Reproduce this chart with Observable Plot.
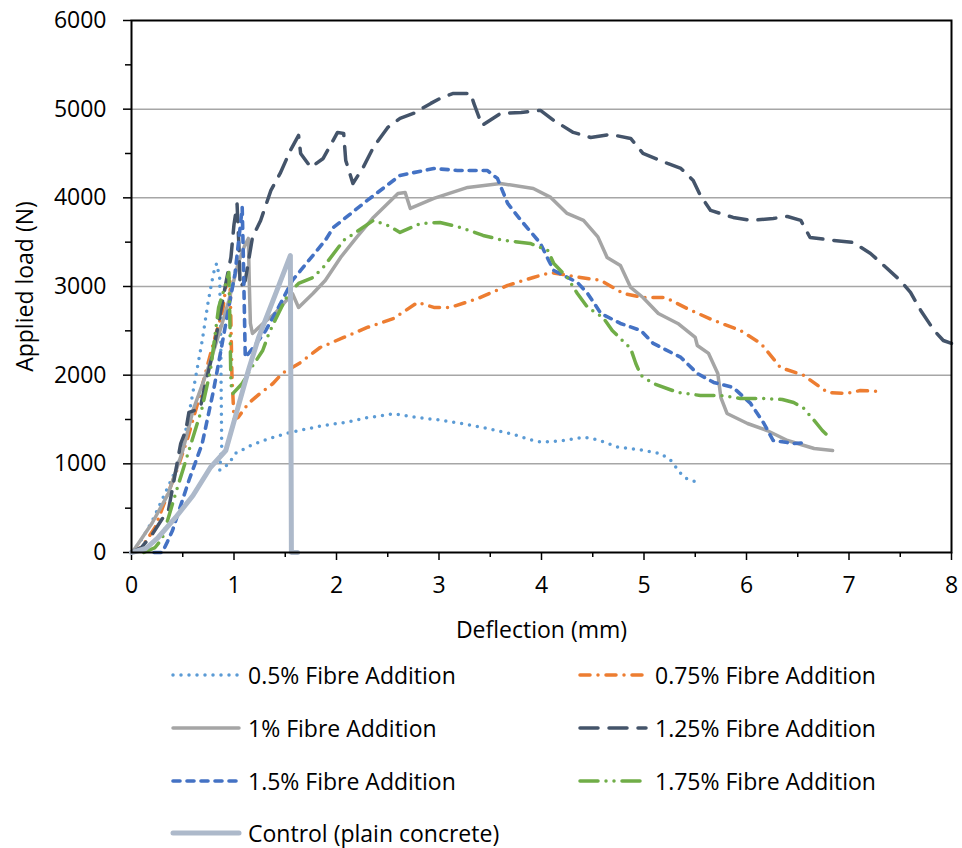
<!DOCTYPE html>
<html>
<head>
<meta charset="utf-8">
<script src="https://cdn.jsdelivr.net/npm/d3@7"></script>
<script src="https://cdn.jsdelivr.net/npm/@observablehq/plot@0.6"></script>
<style>
  html, body { margin: 0; padding: 0; background: white; }
  #wrap { position: relative; width: 962px; height: 848px; font-family: "Open Sans", sans-serif; overflow: hidden; }
  .item { position: absolute; display: flex; align-items: center; height: 26px; line-height: 26px; font-size: 23px; color: #000; white-space: nowrap; }
  .item svg { margin-right: 6px; }
</style>
</head>
<body>
<div id="wrap"></div>
<script>
// ---- data ----
const seriesNames = ["0.5% Fibre Addition", "0.75% Fibre Addition", "1% Fibre Addition", "1.25% Fibre Addition", "1.5% Fibre Addition", "1.75% Fibre Addition", "Control (plain concrete)"];

const fibre05 = [[0,0],[0.1,150],[0.2,350],[0.3,600],[0.4,850],[0.46,1004],[0.55,1489],[0.62,1940],[0.69,2391],[0.75,2843],[0.8,3150],[0.83,3260],[0.86,3100],[0.87,2500],[0.875,1800],[0.88,1200],[0.86,930],[0.95,1000],[1.01,1115],[1.15,1200],[1.34,1285],[1.5,1340],[1.63,1375],[1.86,1430],[2.1,1470],[2.3,1520],[2.56,1565],[2.8,1520],[3.01,1495],[3.25,1450],[3.47,1400],[3.7,1340],[3.9,1270],[4.0,1245],[4.2,1260],[4.41,1300],[4.55,1270],[4.74,1190],[4.95,1160],[5.16,1117],[5.26,1040],[5.36,890],[5.42,830],[5.5,800],[5.56,805]];

const fibre075 = [[0,0],[0.1,60],[0.23,282],[0.35,650],[0.45,950],[0.55,1297],[0.65,1700],[0.75,2150],[0.82,2450],[0.89,2730],[0.92,2990],[0.96,3120],[0.97,2600],[0.98,2000],[1.0,1500],[1.04,1523],[1.14,1681],[1.25,1790],[1.38,1906],[1.47,2019],[1.65,2143],[1.84,2312],[2.07,2425],[2.3,2538],[2.56,2640],[2.79,2820],[2.95,2764],[3.11,2764],[3.38,2865],[3.67,3012],[3.92,3102],[4.09,3158],[4.38,3102],[4.58,3068],[4.8,2921],[4.99,2876],[5.21,2876],[5.42,2752],[5.68,2617],[5.94,2504],[6.14,2358],[6.33,2087],[6.56,1997],[6.79,1805],[6.98,1794],[7.11,1827],[7.31,1816]];

const fibre1 = [[0,0],[0.04,56],[0.2,330],[0.36,665],[0.5,1150],[0.6,1602],[0.74,2053],[0.85,2450],[0.95,2843],[1.04,3260],[1.1,3450],[1.14,3542],[1.15,3000],[1.16,2583],[1.18,2470],[1.28,2580],[1.4,2696],[1.57,2921],[1.63,2764],[1.77,2921],[1.89,3068],[2.04,3328],[2.2,3560],[2.36,3779],[2.6,4050],[2.67,4061],[2.72,3880],[2.95,3993],[3.28,4117],[3.6,4162],[3.92,4106],[4.09,4005],[4.25,3824],[4.41,3745],[4.55,3560],[4.64,3328],[4.77,3237],[4.87,2989],[4.99,2876],[5.14,2696],[5.33,2583],[5.5,2425],[5.52,2335],[5.63,2245],[5.72,2019],[5.75,1748],[5.81,1568],[6.01,1455],[6.2,1376],[6.4,1263],[6.66,1173],[6.84,1150]];

const fibre125 = [[0,0],[0.1,60],[0.2,200],[0.3,380],[0.36,474],[0.42,850],[0.48,1229],[0.53,1376],[0.56,1580],[0.67,1624],[0.72,1900],[0.8,2278],[0.92,3034],[0.97,3328],[1.0,3700],[1.03,3930],[1.05,3400],[1.06,2990],[1.11,3068],[1.18,3553],[1.26,3745],[1.36,4084],[1.45,4275],[1.55,4535],[1.63,4704],[1.65,4501],[1.75,4343],[1.87,4444],[2.01,4738],[2.07,4726],[2.09,4422],[2.16,4162],[2.26,4343],[2.36,4569],[2.5,4794],[2.62,4896],[2.75,4952],[2.92,5065],[3.01,5121],[3.14,5178],[3.31,5178],[3.34,5065],[3.42,4817],[3.6,4952],[3.8,4963],[3.99,4986],[4.12,4873],[4.31,4738],[4.48,4681],[4.67,4715],[4.87,4670],[4.99,4501],[5.23,4388],[5.36,4332],[5.48,4196],[5.55,4027],[5.65,3858],[5.87,3779],[6.04,3745],[6.26,3767],[6.4,3790],[6.53,3745],[6.62,3553],[6.85,3520],[7.04,3497],[7.21,3373],[7.34,3237],[7.5,3068],[7.6,2933],[7.7,2730],[7.83,2504],[7.92,2391],[8.0,2358]];

const fibre15 = [[0.22,0],[0.3,0],[0.35,120],[0.4,248],[0.56,812],[0.69,1229],[0.8,1827],[0.86,2200],[0.92,2583],[1.01,3147],[1.06,3666],[1.08,3891],[1.09,3400],[1.1,2800],[1.11,2200],[1.2,2330],[1.31,2504],[1.45,2800],[1.57,3068],[1.65,3181],[1.89,3520],[1.97,3666],[2.3,3971],[2.62,4253],[2.95,4331],[3.18,4309],[3.47,4309],[3.57,4219],[3.67,3937],[3.8,3745],[3.99,3486],[4.07,3294],[4.12,3181],[4.35,3046],[4.45,2921],[4.58,2696],[4.77,2583],[4.97,2504],[5.09,2358],[5.36,2200],[5.52,2019],[5.68,1918],[5.87,1861],[6.04,1681],[6.17,1455],[6.26,1263],[6.46,1229],[6.6,1241]];

const fibre175 = [[0.12,0],[0.23,56],[0.3,158],[0.43,665],[0.53,1038],[0.69,1636],[0.77,2053],[0.85,2764],[0.92,3034],[0.95,3158],[0.96,2600],[0.97,1900],[0.99,1794],[1.08,1906],[1.18,2100],[1.28,2278],[1.34,2470],[1.4,2617],[1.53,2921],[1.63,3034],[1.77,3102],[1.87,3215],[2.07,3520],[2.36,3745],[2.5,3689],[2.62,3610],[2.82,3711],[3.01,3722],[3.21,3666],[3.43,3576],[3.63,3520],[3.89,3486],[4.06,3407],[4.12,3260],[4.25,3102],[4.35,2921],[4.45,2764],[4.6,2651],[4.69,2504],[4.79,2391],[4.87,2301],[4.92,2132],[4.97,1997],[5.09,1906],[5.33,1805],[5.55,1771],[5.75,1771],[5.94,1737],[6.17,1737],[6.35,1726],[6.46,1692],[6.56,1624],[6.66,1489],[6.74,1376],[6.82,1286]];

const control = [[0,0],[0.14,45],[0.26,169],[0.43,395],[0.6,643],[0.77,959],[0.92,1150],[1.03,1600],[1.14,2053],[1.24,2425],[1.4,2900],[1.55,3350],[1.56,0],[1.62,0]];

const yTicks = [0, 1000, 2000, 3000, 4000, 5000, 6000];
const yMinor = [500, 1500, 2500, 3500, 4500, 5500];
const yGrid = [1000, 2000, 3000, 4000, 5000];
const xTicks = [0, 1, 2, 3, 4, 5, 6, 7, 8];
const xMinor = [0.5, 1.5, 2.5, 3.5, 4.5, 5.5, 6.5, 7.5];

// ---- styles ----
const allSeries = [fibre05, fibre075, fibre1, fibre125, fibre15, fibre175, control];
const colors = ["#5B9BD5", "#ED7D31", "#A5A5A5", "#44546A", "#4472C4", "#70AD47", "#ADB9CA"];
const dashes = ["0 8", "10 8 0 8", null, "18 11", "7 7", "18 8 0 8 0 8", null];
const widths = [3.5, 3.5, 3.5, 3.5, 3.6, 3.5, 5];

const lineMarks = allSeries.map((s, i) => Plot.line(s, {
  x: d => d[0], y: d => d[1],
  stroke: colors[i], strokeWidth: widths[i],
  strokeDasharray: dashes[i] || undefined,
  strokeLinecap: "round", strokeLinejoin: "round"
}));

const chart = Plot.plot({
  width: 962, height: 650,
  marginLeft: 131, marginRight: 11, marginTop: 20, marginBottom: 98,
  style: { fontFamily: "Open Sans, sans-serif", fontSize: "23px", color: "black", background: "white", overflow: "visible" },
  x: { domain: [0, 8] },
  y: { domain: [0, 6000] },
  marks: [
    Plot.gridY(yGrid, { stroke: "#A6A6A6", strokeOpacity: 1, strokeWidth: 1.5 }),
    Plot.axisY(yTicks, { tickSize: 8, tickPadding: 17, strokeWidth: 1.5, tickFormat: d => String(d), label: "Applied load (N)", labelAnchor: "center", labelOffset: 115, labelArrow: "none" }),
    Plot.axisY(yMinor, { tickSize: 6, strokeWidth: 1.5, text: null, label: null }),
    Plot.axisX(xTicks, { tickSize: 8, tickPadding: 16, strokeWidth: 1.5, tickFormat: d => String(d), label: "Deflection (mm)", labelAnchor: "center", labelOffset: 85, labelArrow: "none" }),
    Plot.axisX(xMinor, { tickSize: 5, strokeWidth: 1.5, text: null, label: null }),
    ...lineMarks,
    Plot.frame({ stroke: "black", strokeWidth: 2 })
  ]
});

const wrap = document.getElementById("wrap");
wrap.appendChild(chart);

// ---- legend ----
const legendPos = [[170, 675], [577, 675], [170, 728], [577, 728], [170, 781], [577, 781], [170, 833]];
seriesNames.forEach((name, i) => {
  const item = document.createElement("div");
  item.className = "item";
  item.style.left = legendPos[i][0] + "px";
  item.style.top = (legendPos[i][1] - 13) + "px";
  const svg = d3.create("svg").attr("width", 72).attr("height", 12);
  svg.append("line").attr("x1", 3).attr("x2", 69).attr("y1", 6).attr("y2", 6)
    .attr("stroke", colors[i]).attr("stroke-width", widths[i])
    .attr("stroke-linecap", "round")
    .attr("stroke-dasharray", dashes[i]);
  item.appendChild(svg.node());
  const span = document.createElement("span");
  span.textContent = name;
  item.appendChild(span);
  wrap.appendChild(item);
});
</script>
</body>
</html>
